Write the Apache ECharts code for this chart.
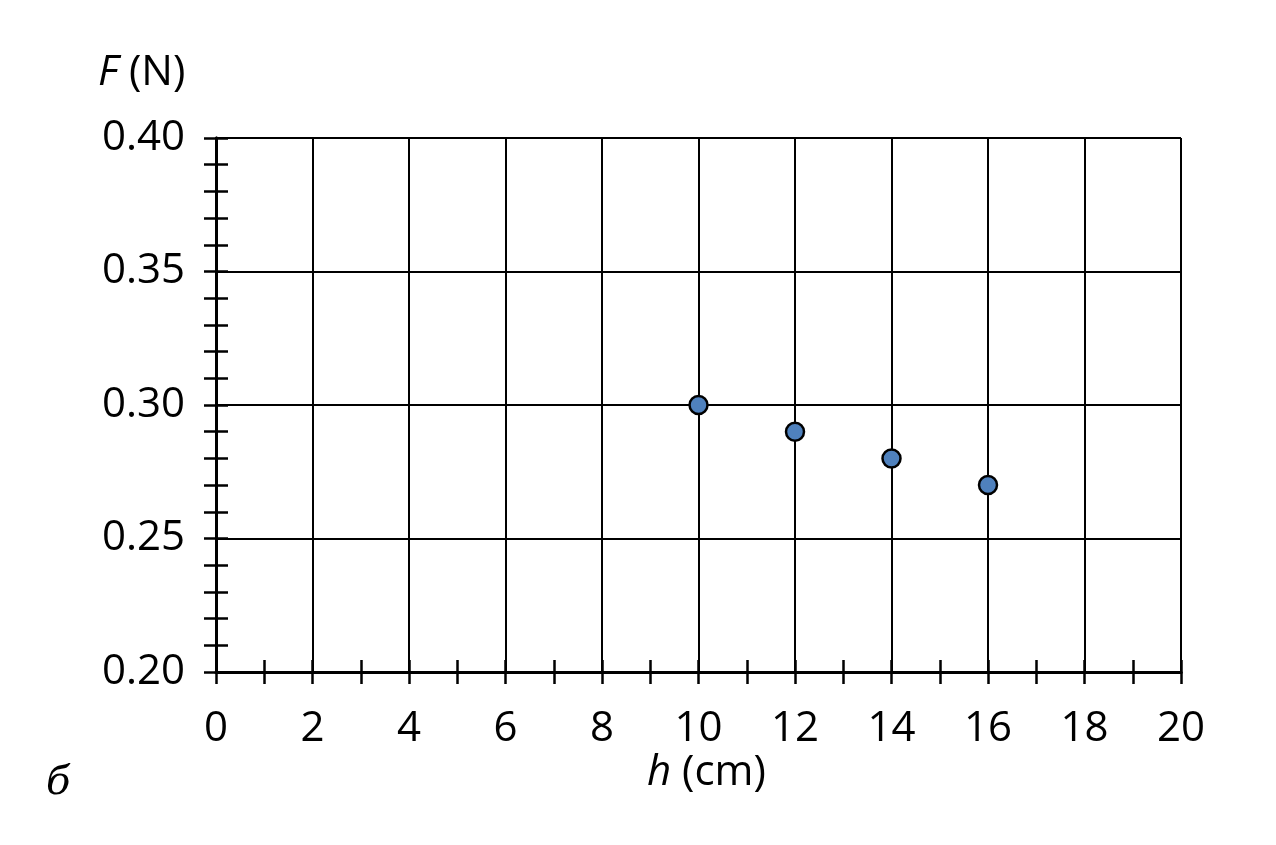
<!DOCTYPE html>
<html><head><meta charset="utf-8">
<script src="https://cdn.jsdelivr.net/npm/echarts@6/dist/echarts.min.js"></script>
<style>html,body{margin:0;padding:0;background:#fff}#c{width:1276px;height:845px}</style>
</head><body><div id="c"></div>
<script>
const hValues = [10, 12, 14, 16];
const fValues = [0.30, 0.29, 0.28, 0.27];
const xTicks = [0,2,4,6,8,10,12,14,16,18,20];
const yTicks = [0.20,0.25,0.30,0.35,0.40];

const font = '"Open Sans", "Liberation Sans", sans-serif';
const FS = 42;
const chart = echarts.init(document.getElementById('c'));
const axisLine = {show:true, onZero:false, lineStyle:{color:'#000', width:3}};
const tickStyle = {color:'#000', width:2.5};
function xAxis(inside, show){
  return {type:'value', min:0, max:20, interval:2, position:'bottom',
    axisLine: axisLine,
    axisTick:{show:true, inside:inside, length:12, lineStyle:tickStyle},
    minorTick:{show:true, splitNumber:2, length:12, lineStyle:tickStyle},
    axisLabel:{show:show, margin:36, fontSize:FS, color:'#000', fontFamily:font},
    splitLine:{show:show, lineStyle:{color:'#000', width:2}}};
}
function yAxis(inside, show){
  return {type:'value', min:0.20, max:0.40, interval:0.05, position:'left',
    axisLine: axisLine,
    axisTick:{show:true, inside:inside, length:12, lineStyle:tickStyle},
    minorTick:{show:true, splitNumber:5, length:12, lineStyle:tickStyle},
    axisLabel:{show:show, margin:31, fontSize:FS, color:'#000', fontFamily:font,
      formatter:v=>v.toFixed(2)},
    splitLine:{show:show, lineStyle:{color:'#000', width:2}}};
}
const rich = {i:{fontStyle:'italic', fontSize:FS, fontFamily:font, fill:'#000'}, n:{fontSize:FS, fontFamily:font, fill:'#000'}};
chart.setOption({
  animation:false,
  grid:{left:216, right:95, top:138, bottom:173, containLabel:false},
  xAxis:[xAxis(false,true), xAxis(true,false)],
  yAxis:[yAxis(false,true), yAxis(true,false)],
  series:[{type:'scatter', xAxisIndex:0, yAxisIndex:0,
    data: hValues.map((h,i)=>[h,fValues[i]]),
    symbolSize:18,
    itemStyle:{color:'#4f81bd', borderColor:'#000', borderWidth:2.5, opacity:1}}],
  graphic:[
    {type:'text', left:98, top:52, style:{rich:rich, text:'{i|F}{n|\u00a0(N)}'}},
    {type:'text', left:647, top:752, style:{rich:rich, text:'{i|h}{n|\u00a0(cm)}'}},
    {type:'text', left:46, top:764, style:{text:'б', fontStyle:'italic', fontSize:40, fontFamily:'"DejaVu Serif", "Liberation Serif", serif', fill:'#000'}}
  ]
});
</script></body></html>
